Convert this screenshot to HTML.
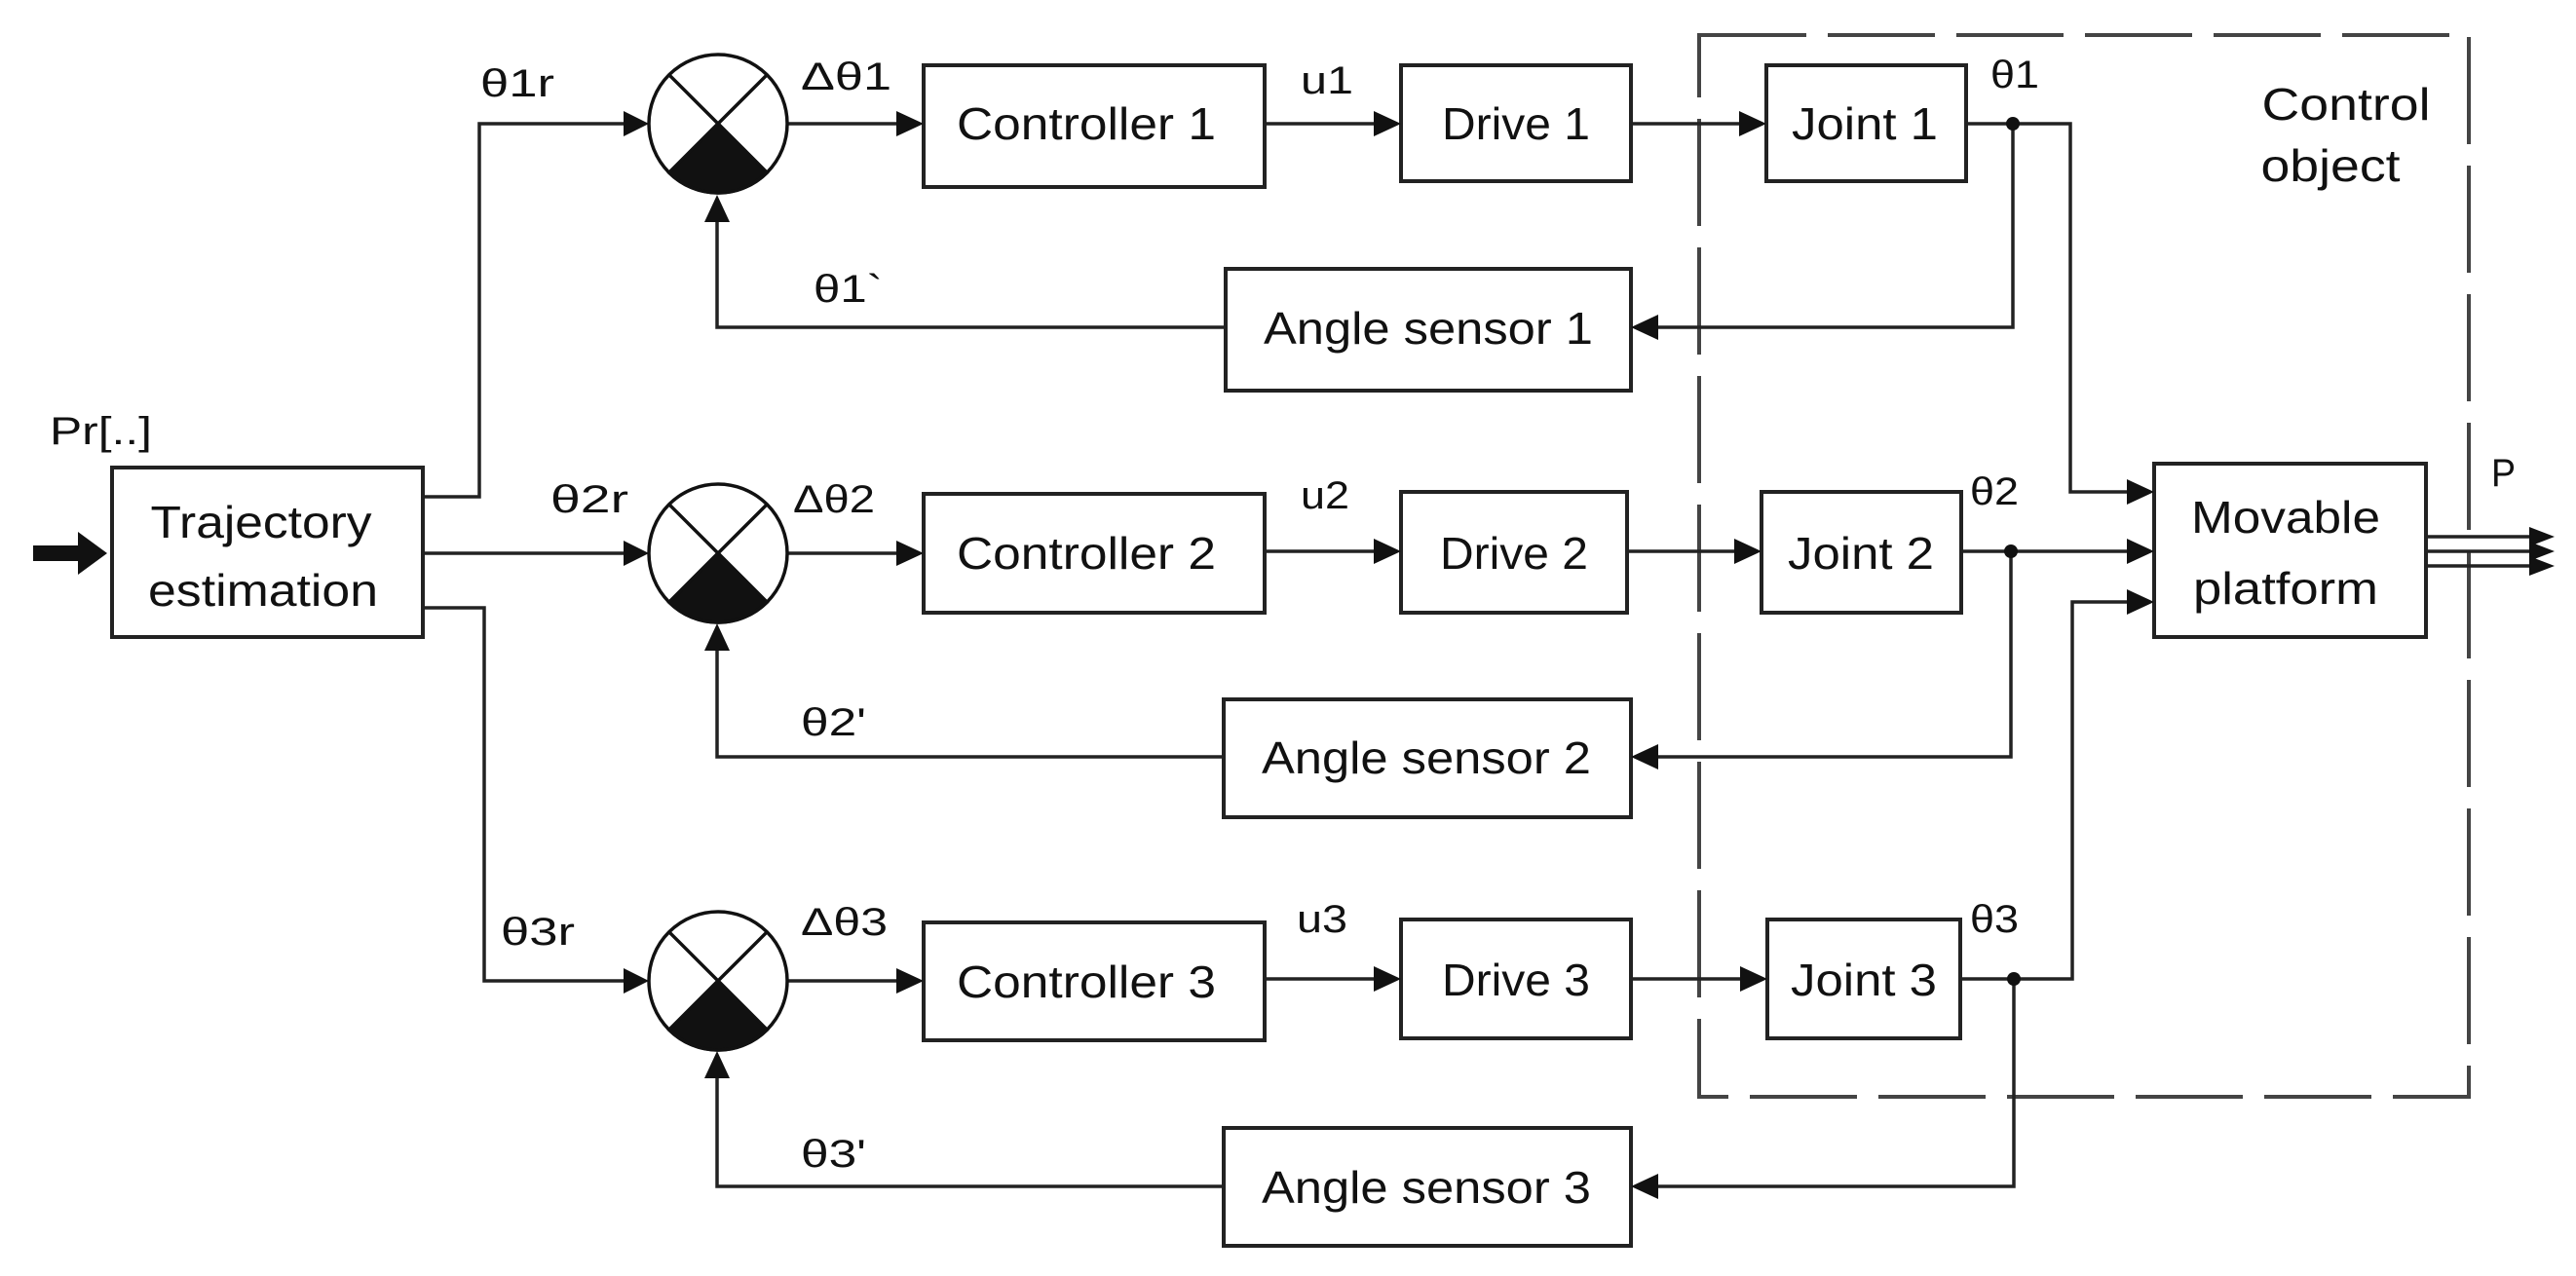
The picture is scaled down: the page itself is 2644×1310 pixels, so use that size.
<!DOCTYPE html>
<html><head><meta charset="utf-8"><style>
html,body{margin:0;padding:0;background:#fff;}
svg{display:block;}
text{font-family:"Liberation Sans",sans-serif;fill:#111;}
</style></head><body>
<svg width="2644" height="1310" viewBox="0 0 2644 1310" xmlns="http://www.w3.org/2000/svg">
<defs>
<marker id="a" markerWidth="10" markerHeight="10" refX="9" refY="5" orient="auto" markerUnits="userSpaceOnUse" viewBox="0 0 10 10">
</marker>
</defs>
<g stroke="#222" stroke-width="4" fill="none">
<!-- dashed box -->
<rect x="1744" y="36" width="790" height="1090" stroke-dasharray="110 22" stroke="#444"/>
<!-- boxes -->
<rect x="115" y="480" width="319" height="174"/>
<rect x="948" y="67" width="350" height="125"/>
<rect x="948" y="507" width="350" height="122"/>
<rect x="948" y="947" width="350" height="121"/>
<rect x="1438" y="67" width="236" height="119"/>
<rect x="1438" y="505" width="232" height="124"/>
<rect x="1438" y="944" width="236" height="122"/>
<rect x="1813" y="67" width="205" height="119"/>
<rect x="1808" y="505" width="205" height="124"/>
<rect x="1814" y="944" width="198" height="122"/>
<rect x="1258" y="276" width="416" height="125"/>
<rect x="1256" y="718" width="418" height="121"/>
<rect x="1256" y="1158" width="418" height="121"/>
<rect x="2211" y="476" width="279" height="178"/>
</g>
<g stroke="#222" stroke-width="3.5" fill="none">
<!-- traj to circles -->
<polyline points="434,510 492,510 492,127 645,127"/>
<polyline points="434,568 645,568"/>
<polyline points="434,624 497,624 497,1007 645,1007"/>
<!-- circle to controller -->
<line x1="808" y1="127" x2="920" y2="127"/>
<line x1="808" y1="568" x2="920" y2="568"/>
<line x1="808" y1="1007" x2="920" y2="1007"/>
<!-- controller to drive -->
<line x1="1298" y1="127" x2="1410" y2="127"/>
<line x1="1298" y1="566" x2="1410" y2="566"/>
<line x1="1298" y1="1005" x2="1410" y2="1005"/>
<!-- drive to joint -->
<line x1="1674" y1="127" x2="1785" y2="127"/>
<line x1="1670" y1="566" x2="1780" y2="566"/>
<line x1="1674" y1="1005" x2="1786" y2="1005"/>
<!-- joint outputs -->
<polyline points="2018,127 2125,127 2125,505 2183,505"/>
<polyline points="2013,566 2183,566"/>
<polyline points="2012,1005 2127,1005 2127,618 2183,618"/>
<!-- feedback -->
<polyline points="2066,127 2066,336 1702,336"/>
<polyline points="2064,566 2064,777 1702,777"/>
<polyline points="2067,1005 2067,1218 1702,1218"/>
<polyline points="1258,336 736,336 736,228"/>
<polyline points="1256,777 736,777 736,668"/>
<polyline points="1256,1218 736,1218 736,1107"/>
<!-- outputs -->
<line x1="2490" y1="551" x2="2600" y2="551"/>
<line x1="2490" y1="566" x2="2600" y2="566"/>
<line x1="2490" y1="581" x2="2600" y2="581"/>
</g>
<!-- input arrow -->
<rect x="34" y="560" width="50" height="16" fill="#111"/>
<polygon points="80,546 110,568 80,590" fill="#111"/>
<g fill="#111">
<!-- arrowheads right -->
<polygon points="640,114 666,127 640,140"/>
<polygon points="640,555 666,568 640,581"/>
<polygon points="640,994 666,1007 640,1020"/>
<polygon points="920,114 948,127 920,140"/>
<polygon points="920,555 948,568 920,581"/>
<polygon points="920,994 948,1007 920,1020"/>
<polygon points="1410,114 1438,127 1410,140"/>
<polygon points="1410,553 1438,566 1410,579"/>
<polygon points="1410,992 1438,1005 1410,1018"/>
<polygon points="1785,114 1813,127 1785,140"/>
<polygon points="1780,553 1808,566 1780,579"/>
<polygon points="1786,992 1814,1005 1786,1018"/>
<polygon points="2183,492 2211,505 2183,518"/>
<polygon points="2183,553 2211,566 2183,579"/>
<polygon points="2183,605 2211,618 2183,631"/>
<polygon points="2596,541 2622,551 2596,561"/>
<polygon points="2596,556 2622,566 2596,576"/>
<polygon points="2596,571 2622,581 2596,591"/>
<!-- arrowheads left -->
<polygon points="1702,323 1674,336 1702,349"/>
<polygon points="1702,764 1674,777 1702,790"/>
<polygon points="1702,1205 1674,1218 1702,1231"/>
<!-- arrowheads up -->
<polygon points="723,228 736,200 749,228"/>
<polygon points="723,668 736,640 749,668"/>
<polygon points="723,1107 736,1079 749,1107"/>
<!-- dots -->
<circle cx="2066" cy="127" r="7"/>
<circle cx="2064" cy="566" r="7"/>
<circle cx="2067" cy="1005" r="7"/>
</g>
<!-- summing junctions -->
<g stroke="#111" stroke-width="3.5">
<g transform="translate(737,127)">
<circle r="71" fill="#fff"/>
<path d="M0,0 L50.2,50.2 A71,71 0 0 1 -50.2,50.2 Z" fill="#111"/>
<line x1="-50.2" y1="-50.2" x2="50.2" y2="50.2"/><line x1="50.2" y1="-50.2" x2="-50.2" y2="50.2"/>
</g>
<g transform="translate(737,568)">
<circle r="71" fill="#fff"/>
<path d="M0,0 L50.2,50.2 A71,71 0 0 1 -50.2,50.2 Z" fill="#111"/>
<line x1="-50.2" y1="-50.2" x2="50.2" y2="50.2"/><line x1="50.2" y1="-50.2" x2="-50.2" y2="50.2"/>
</g>
<g transform="translate(737,1007)">
<circle r="71" fill="#fff"/>
<path d="M0,0 L50.2,50.2 A71,71 0 0 1 -50.2,50.2 Z" fill="#111"/>
<line x1="-50.2" y1="-50.2" x2="50.2" y2="50.2"/><line x1="50.2" y1="-50.2" x2="-50.2" y2="50.2"/>
</g>
</g>
<!-- box texts -->
<g font-size="46" text-anchor="middle">
<text x="1115" y="143" textLength="266" lengthAdjust="spacingAndGlyphs">Controller 1</text>
<text x="1115" y="584" textLength="266" lengthAdjust="spacingAndGlyphs">Controller 2</text>
<text x="1115" y="1024" textLength="266" lengthAdjust="spacingAndGlyphs">Controller 3</text>
<text x="1556" y="143" textLength="152" lengthAdjust="spacingAndGlyphs">Drive 1</text>
<text x="1554" y="584" textLength="152" lengthAdjust="spacingAndGlyphs">Drive 2</text>
<text x="1556" y="1022" textLength="152" lengthAdjust="spacingAndGlyphs">Drive 3</text>
<text x="1914" y="143" textLength="150" lengthAdjust="spacingAndGlyphs">Joint 1</text>
<text x="1910" y="584" textLength="150" lengthAdjust="spacingAndGlyphs">Joint 2</text>
<text x="1913" y="1022" textLength="150" lengthAdjust="spacingAndGlyphs">Joint 3</text>
<text x="1466" y="353" textLength="338" lengthAdjust="spacingAndGlyphs">Angle sensor 1</text>
<text x="1464" y="794" textLength="338" lengthAdjust="spacingAndGlyphs">Angle sensor 2</text>
<text x="1464" y="1235" textLength="338" lengthAdjust="spacingAndGlyphs">Angle sensor 3</text>
<text x="268" y="552" textLength="227" lengthAdjust="spacingAndGlyphs">Trajectory</text>
<text x="270" y="622" textLength="236" lengthAdjust="spacingAndGlyphs">estimation</text>
<text x="2346" y="547" textLength="194" lengthAdjust="spacingAndGlyphs">Movable</text>
<text x="2346" y="620" textLength="190" lengthAdjust="spacingAndGlyphs">platform</text>
<text x="2408" y="123" textLength="173" lengthAdjust="spacingAndGlyphs">Control</text>
<text x="2392" y="186" textLength="143" lengthAdjust="spacingAndGlyphs">object</text>
</g>
<!-- labels -->
<g font-size="40">
<text x="493" y="99" textLength="76" lengthAdjust="spacingAndGlyphs">θ1r</text>
<text x="822" y="92" textLength="93" lengthAdjust="spacingAndGlyphs">Δθ1</text>
<text x="1335" y="96" textLength="54" lengthAdjust="spacingAndGlyphs">u1</text>
<text x="2043" y="90" textLength="50" lengthAdjust="spacingAndGlyphs">θ1</text>
<text x="835" y="310" textLength="71" lengthAdjust="spacingAndGlyphs">θ1`</text>
<text x="51" y="456" textLength="105" lengthAdjust="spacingAndGlyphs">Pr[..]</text>
<text x="565" y="526" textLength="80" lengthAdjust="spacingAndGlyphs">θ2r</text>
<text x="814" y="526" textLength="84" lengthAdjust="spacingAndGlyphs">Δθ2</text>
<text x="1335" y="522" textLength="50" lengthAdjust="spacingAndGlyphs">u2</text>
<text x="2022" y="518" textLength="50" lengthAdjust="spacingAndGlyphs">θ2</text>
<text x="822" y="755" textLength="67" lengthAdjust="spacingAndGlyphs">θ2'</text>
<text x="514" y="970" textLength="76" lengthAdjust="spacingAndGlyphs">θ3r</text>
<text x="822" y="960" textLength="89" lengthAdjust="spacingAndGlyphs">Δθ3</text>
<text x="1331" y="957" textLength="52" lengthAdjust="spacingAndGlyphs">u3</text>
<text x="2022" y="957" textLength="50" lengthAdjust="spacingAndGlyphs">θ3</text>
<text x="822" y="1198" textLength="67" lengthAdjust="spacingAndGlyphs">θ3'</text>
<text x="2557" y="499" textLength="25" lengthAdjust="spacingAndGlyphs">P</text>
</g>
</svg>
</body></html>
